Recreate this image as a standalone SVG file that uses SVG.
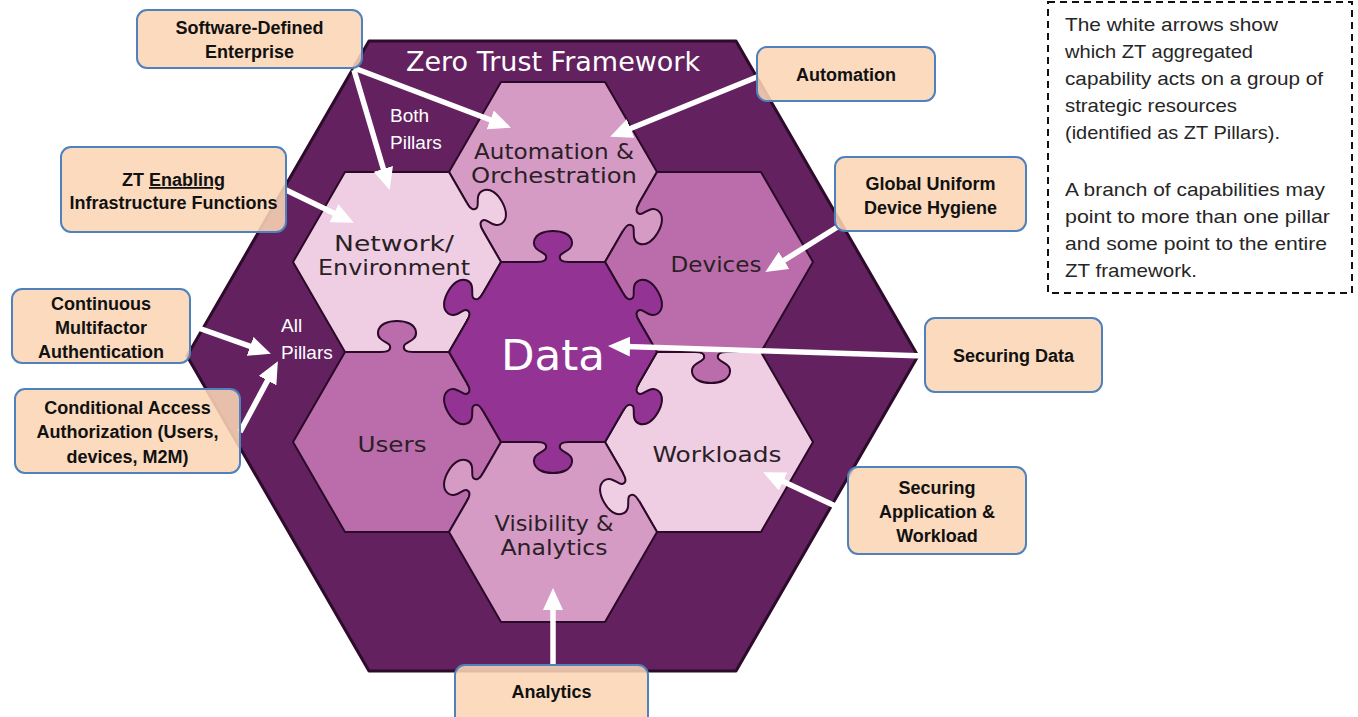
<svg xmlns="http://www.w3.org/2000/svg" xmlns:xlink="http://www.w3.org/1999/xlink" width="1358" height="717" viewBox="0 0 1358 717">
<style>
.hex{stroke:#2a0a28;stroke-width:2;stroke-linejoin:round}
.p-light{fill:#efcee3}
.p-mid{fill:#d69bc5}
.p-deep{fill:#bb6dab}
.p-data{fill:#933393}
.pl{font-family:"DejaVu Sans",sans-serif;font-size:20.5px;fill:#2a1f26;text-anchor:middle}
.wl{font-family:"Liberation Sans",Arial,sans-serif;font-size:19px;fill:#ffffff}
.box{fill:#fbd5b5;fill-opacity:0.88;stroke:#4f81bd;stroke-width:2}
.bt{font-family:"Liberation Sans",Arial,sans-serif;font-size:18px;font-weight:bold;fill:#111;text-anchor:middle}
.arr{fill:none;stroke:#ffffff;stroke-width:5.5;marker-end:url(#ah)}
.note{font-family:"Liberation Sans",Arial,sans-serif;font-size:19px;fill:#262626}
.tabline{fill:none;stroke:#2a0a28;stroke-width:2;stroke-linejoin:round}
</style>
<defs>
<marker id="ah" markerUnits="userSpaceOnUse" markerWidth="22" markerHeight="20" viewBox="0 0 22 20" refX="4" refY="10" orient="auto">
<path d="M0,0 L22,10 L0,20 z" fill="#ffffff"/>
</marker>
<path id="tabFill" d="M -16 0 C -9 0 -6 -2 -7 -6 C -8 -10 -20 -11 -19 -20 C -18 -28 -9 -31 0 -31 C 9 -31 18 -28 19 -20 C 20 -11 8 -10 7 -6 C 6 -2 9 0 16 0 L 16 3 L -16 3 Z"/>
<path id="tabLine" d="M -16 0 C -9 0 -6 -2 -7 -6 C -8 -10 -20 -11 -19 -20 C -18 -28 -9 -31 0 -31 C 9 -31 18 -28 19 -20 C 20 -11 8 -10 7 -6 C 6 -2 9 0 16 0"/>
</defs>
<rect x="0" y="0" width="1358" height="717" fill="#ffffff"/>

<g id="framework">
<polygon points="369,41 736,41 918,356 736,671 369,671 187,356" fill="#63215f" stroke="#2d0b2b" stroke-width="3" stroke-linejoin="round"/>
<text x="553" y="71" font-family="DejaVu Sans,sans-serif" font-size="27" fill="#ffffff" text-anchor="middle">Zero Trust Framework</text>
</g>

<g id="pillar-automation">
<polygon class="hex p-mid" points="449,172 501,82 605,82 657,172 605,262 501,262"/>
<text class="pl" x="554" y="159" textLength="160" lengthAdjust="spacingAndGlyphs">Automation &amp;</text>
<text class="pl" x="554" y="183" textLength="166" lengthAdjust="spacingAndGlyphs">Orchestration</text>
</g>
<g id="pillar-network">
<polygon class="hex p-light" points="293,262 345,172 449,172 501,262 449,352 345,352"/>
<text class="pl" x="394" y="251" textLength="120" lengthAdjust="spacingAndGlyphs">Network/</text>
<text class="pl" x="394" y="275" textLength="152" lengthAdjust="spacingAndGlyphs">Environment</text>
</g>
<g id="pillar-devices">
<polygon class="hex p-deep" points="605,262 657,172 761,172 813,262 761,352 657,352"/>
<text class="pl" x="716" y="272" textLength="91" lengthAdjust="spacingAndGlyphs">Devices</text>
</g>
<g id="pillar-users">
<polygon class="hex p-deep" points="293,442 345,352 449,352 501,442 449,532 345,532"/>
<text class="pl" x="392" y="452" textLength="69" lengthAdjust="spacingAndGlyphs">Users</text>
</g>
<g id="pillar-workloads">
<polygon class="hex p-light" points="605,442 657,352 761,352 813,442 761,532 657,532"/>
<text class="pl" x="717" y="462" textLength="129" lengthAdjust="spacingAndGlyphs">Workloads</text>
</g>
<g id="pillar-visibility">
<polygon class="hex p-mid" points="449,532 501,442 605,442 657,532 605,622 501,622"/>
<text class="pl" x="554" y="531" textLength="119" lengthAdjust="spacingAndGlyphs">Visibility &amp;</text>
<text class="pl" x="554" y="555" textLength="107" lengthAdjust="spacingAndGlyphs">Analytics</text>
</g>
<g id="pillar-data">
<polygon class="hex p-data" points="449,352 501,262 605,262 657,352 605,442 501,442"/>
</g>

<g id="puzzle-tabs">
<g transform="translate(553,262)"><use xlink:href="#tabFill" class="p-data"/><use xlink:href="#tabLine" class="tabline"/></g>
<g transform="translate(475,217) rotate(60)"><use xlink:href="#tabFill" class="p-light"/><use xlink:href="#tabLine" class="tabline"/></g>
<g transform="translate(631,217) rotate(120)"><use xlink:href="#tabFill" class="p-mid"/><use xlink:href="#tabLine" class="tabline"/></g>
<g transform="translate(631,307) rotate(60)"><use xlink:href="#tabFill" class="p-data"/><use xlink:href="#tabLine" class="tabline"/></g>
<g transform="translate(631,397) rotate(120)"><use xlink:href="#tabFill" class="p-data"/><use xlink:href="#tabLine" class="tabline"/></g>
<g transform="translate(711,352) rotate(180)"><use xlink:href="#tabFill" class="p-deep"/><use xlink:href="#tabLine" class="tabline"/></g>
<g transform="translate(553,442) rotate(180)"><use xlink:href="#tabFill" class="p-data"/><use xlink:href="#tabLine" class="tabline"/></g>
<g transform="translate(631,487) rotate(240)"><use xlink:href="#tabFill" class="p-light"/><use xlink:href="#tabLine" class="tabline"/></g>
<g transform="translate(475,487) rotate(300)"><use xlink:href="#tabFill" class="p-mid"/><use xlink:href="#tabLine" class="tabline"/></g>
<g transform="translate(475,397) rotate(240)"><use xlink:href="#tabFill" class="p-data"/><use xlink:href="#tabLine" class="tabline"/></g>
<g transform="translate(397,352)"><use xlink:href="#tabFill" class="p-deep"/><use xlink:href="#tabLine" class="tabline"/></g>
<g transform="translate(475,307) rotate(300)"><use xlink:href="#tabFill" class="p-data"/><use xlink:href="#tabLine" class="tabline"/></g>
</g>

<g id="data-label">
<text x="553" y="370" font-family="DejaVu Sans,sans-serif" font-size="42" fill="#ffffff" text-anchor="middle" textLength="104" lengthAdjust="spacingAndGlyphs">Data</text>
</g>

<g id="group-labels">
<text class="wl" x="390" y="122">Both</text>
<text class="wl" x="390" y="149">Pillars</text>
<text class="wl" x="281" y="332">All</text>
<text class="wl" x="281" y="359">Pillars</text>
</g>

<g id="connectors">
<path class="arr" d="M354,68 L494,121.3"/>
<path class="arr" d="M354,70 L384.5,172.7"/>
<path class="arr" d="M286,190 L337.6,215"/>
<path class="arr" d="M190,325 L253.9,347.7"/>
<path class="arr" d="M240,432 L269.4,377.1"/>
<path class="arr" d="M757,77 L626.8,130"/>
<path class="arr" d="M839,226 L780.6,262.5"/>
<path class="arr" d="M925,356 L626,346.5"/>
<path class="arr" d="M848,512 L779.5,479.8"/>
<path class="arr" d="M553,665 L553,606"/>
</g>

<g id="box-sde">
<rect class="box" x="137" y="10" width="225" height="58" rx="10"/>
<text class="bt" x="249.5" y="34">Software-Defined</text>
<text class="bt" x="249.5" y="58">Enterprise</text>
</g>
<g id="box-zt-enabling">
<rect class="box" x="61" y="147" width="225" height="85" rx="10"/>
<text class="bt" x="173.5" y="186">ZT <tspan text-decoration="underline">Enabling</tspan></text>
<text class="bt" x="173.5" y="209">Infrastructure Functions</text>
</g>
<g id="box-mfa">
<rect class="box" x="12" y="289" width="178" height="74" rx="10"/>
<text class="bt" x="101" y="310">Continuous</text>
<text class="bt" x="101" y="334">Multifactor</text>
<text class="bt" x="101" y="358">Authentication</text>
</g>
<g id="box-conditional">
<rect class="box" x="15" y="389" width="225" height="84" rx="10"/>
<text class="bt" x="127.5" y="414">Conditional Access</text>
<text class="bt" x="127.5" y="438">Authorization (Users,</text>
<text class="bt" x="127.5" y="463">devices, M2M)</text>
</g>
<g id="box-automation">
<rect class="box" x="757" y="47" width="178" height="54" rx="10"/>
<text class="bt" x="846" y="81">Automation</text>
</g>
<g id="box-device-hygiene">
<rect class="box" x="835" y="157" width="191" height="74" rx="10"/>
<text class="bt" x="930.5" y="190">Global Uniform</text>
<text class="bt" x="930.5" y="214">Device Hygiene</text>
</g>
<g id="box-securing-data">
<rect class="box" x="925" y="318" width="177" height="74" rx="10"/>
<text class="bt" x="1013.5" y="362">Securing Data</text>
</g>
<g id="box-securing-app">
<rect class="box" x="848" y="467" width="178" height="87" rx="10"/>
<text class="bt" x="937" y="494">Securing</text>
<text class="bt" x="937" y="518">Application &amp;</text>
<text class="bt" x="937" y="542">Workload</text>
</g>
<g id="box-analytics">
<rect class="box" x="455" y="665" width="193" height="62" rx="10"/>
<text class="bt" x="551.5" y="698">Analytics</text>
</g>

<g id="note">
<rect x="1048" y="2" width="304" height="291" fill="none" stroke="#111" stroke-width="2" stroke-dasharray="7 5"/>
<text class="note" x="1065" y="31" textLength="213" lengthAdjust="spacingAndGlyphs">The white arrows show</text>
<text class="note" x="1065" y="58" textLength="188" lengthAdjust="spacingAndGlyphs">which ZT aggregated</text>
<text class="note" x="1065" y="85" textLength="258" lengthAdjust="spacingAndGlyphs">capability acts on a group of</text>
<text class="note" x="1065" y="112" textLength="172" lengthAdjust="spacingAndGlyphs">strategic resources</text>
<text class="note" x="1065" y="139" textLength="215" lengthAdjust="spacingAndGlyphs">(identified as ZT Pillars).</text>
<text class="note" x="1065" y="196" textLength="260" lengthAdjust="spacingAndGlyphs">A branch of capabilities may</text>
<text class="note" x="1065" y="223" textLength="265" lengthAdjust="spacingAndGlyphs">point to more than one pillar</text>
<text class="note" x="1065" y="250" textLength="262" lengthAdjust="spacingAndGlyphs">and some point to the entire</text>
<text class="note" x="1065" y="277" textLength="132" lengthAdjust="spacingAndGlyphs">ZT framework.</text>
</g>
</svg>
